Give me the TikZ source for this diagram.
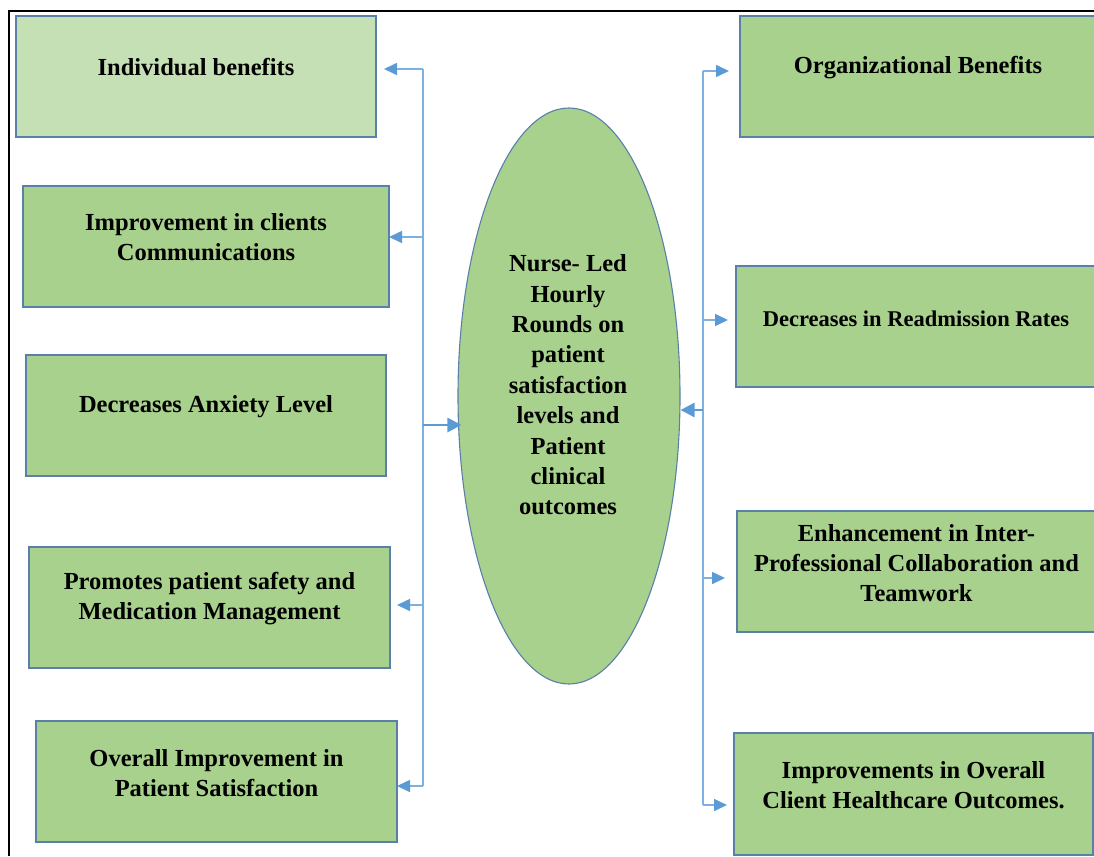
\documentclass[tikz,border=0pt]{standalone}
\usepackage{fontspec}
\setmainfont{Liberation Serif}
\usetikzlibrary{shapes.geometric,arrows.meta,calc}
\definecolor{boxgreen}{HTML}{A9D18E}
\definecolor{palegreen}{HTML}{C5E0B4}
\definecolor{edgeblue}{HTML}{5A7FA8}
\definecolor{linkblue}{HTML}{7FB0E2}
\definecolor{tipblue}{HTML}{5B9BD5}
\begin{document}
\begin{tikzpicture}[x=1pt,y=-1pt,
  box/.style={draw=edgeblue,line width=1.4pt,fill=boxgreen,anchor=north west,
    minimum width=#1,minimum height=121pt,inner sep=0pt,outer sep=0pt},
  txt/.style={font=\fontsize{24.5}{30}\selectfont\bfseries,align=center,inner sep=0pt},
  link/.style={draw=linkblue,line width=1.6pt,
    -{Triangle[length=13pt,width=12pt,color=tipblue,fill=tipblue]}},
  mainlink/.style={draw=tipblue,line width=2.8pt,
    -{Triangle[length=14pt,width=14pt,color=tipblue,fill=tipblue]}},
  frame/.style={draw=black,line width=1.3pt}]
\useasboundingbox (0,0) rectangle (1094,856);
\draw[frame] (9,856) -- (9,11) -- (1094,11);

% left column of benefit boxes
\node[box=360pt,fill=palegreen] (b1) at (16,16) {};
\node[box=366pt] (b2) at (23,186) {};
\node[box=360pt] (b3) at (26,355) {};
\node[box=361pt] (b4) at (29,547) {};
\node[box=361pt] (b5) at (36,721) {};

% right column of benefit boxes
\node[box=356pt] (r1) at (740,16) {};
\node[box=360pt] (r2) at (736,266) {};
\node[box=359pt] (r3) at (737,511) {};
\node[box=359pt,minimum height=122pt] (r4) at (734,733) {};

% central ellipse
\node[ellipse,draw=edgeblue,line width=1.1pt,fill=boxgreen,
  minimum width=222pt,minimum height=576pt,inner sep=0pt] (e) at (569,396) {};

% labels
\node[txt] (t1) at ($(b1.center)+(0,-9)$) {Individual benefits};
\node[txt] (t2) at ($(b2.center)+(0,-9)$) {Improvement in clients\\Communications};
\node[txt] (t3) at ($(b3.center)+(0,-9)$) {Decreases Anxiety Level};
\node[txt] (t4) at ($(b4.center)+(0,-9)$) {Promotes patient safety and\\Medication Management};
\node[txt] (t5) at ($(b5.center)+(0,-8)$) {Overall Improvement in\\Patient Satisfaction};
\node[txt] (u1) at ($(r1.center)+(0,-9)$) {Organizational Benefits};
\node[txt,font=\fontsize{22.5}{28}\selectfont\bfseries] (u2) at ($(r2.center)+(0,-8)$) {Decreases in Readmission Rates};
\node[txt] (u3) at ($(r3.center)+(0,-8)$) {Enhancement in Inter-\\Professional Collaboration and\\Teamwork};
\node[txt] (u4) at ($(r4.center)+(0,-9)$) {Improvements in Overall\\Client Healthcare Outcomes.};
\node[txt,font=\fontsize{24.5}{30.4}\selectfont\bfseries] (et) at (568,385)
  {Nurse- Led\\Hourly\\Rounds on\\patient\\satisfaction\\levels and\\Patient\\clinical\\outcomes};

% left distribution trunk
\coordinate (L1) at (423,69);
\coordinate (L2) at (423,237);
\coordinate (L0) at (423,425);
\coordinate (L4) at (423,605);
\coordinate (L5) at (423,786);
\draw[draw=linkblue,line width=1.6pt] (L1) -- (L5);
\draw[link] (L1) -- ($(b1.east |- L1)+(8,0)$);
\draw[link] (L2) -- (b2.east |- L2);
\draw[link] (L4) -- ($(b4.east |- L4)+(7,0)$);
\draw[link] (L5) -- (b5.east |- L5);
\draw[mainlink] (L0) -- ($(e.west |- L0)+(4,0)$);

% right distribution trunk
\coordinate (R1) at (703,71);
\coordinate (R2) at (703,320);
\coordinate (R0) at (703,410);
\coordinate (R3) at (703,578);
\coordinate (R4) at (703,805);
\draw[draw=linkblue,line width=1.6pt] (R1) -- (R4);
\draw[link] (R1) -- ($(r1.west |- R1)+(-11,0)$);
\draw[link] (R2) -- ($(r2.west |- R2)+(-8,0)$);
\draw[link] (R3) -- ($(r3.west |- R3)+(-12,0)$);
\draw[link] (R4) -- ($(r4.west |- R4)+(-7,0)$);
\draw[mainlink] (R0) -- (e.east |- R0);
\end{tikzpicture}
\end{document}
